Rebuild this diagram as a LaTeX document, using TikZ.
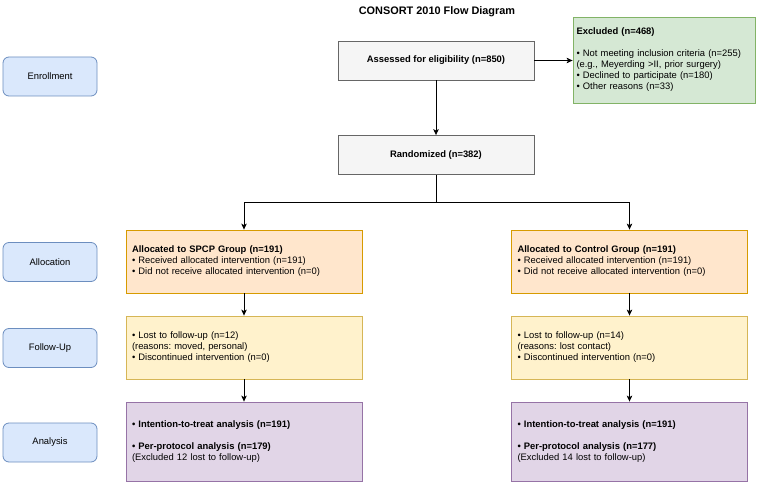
\documentclass[tikz,border=0pt]{standalone}
\usepackage{fontspec}
\setmainfont{Liberation Sans}
\usetikzlibrary{arrows.meta}
\frenchspacing
\definecolor{greyfill}{HTML}{F5F5F5}
\definecolor{greydraw}{HTML}{666666}
\definecolor{greenfill}{HTML}{D5E8D4}
\definecolor{greendraw}{HTML}{82B366}
\definecolor{orangefill}{HTML}{FFE6CC}
\definecolor{orangedraw}{HTML}{D79B00}
\definecolor{yellowfill}{HTML}{FFF2CC}
\definecolor{yellowdraw}{HTML}{D6B656}
\definecolor{purplefill}{HTML}{E1D5E7}
\definecolor{purpledraw}{HTML}{9673A6}
\definecolor{bluefill}{HTML}{DAE8FC}
\definecolor{bluedraw}{HTML}{6C8EBF}
\tikzset{
  basefont/.style={font=\fontsize{9.4}{11}\selectfont},
  stagebox/.style={basefont, draw=bluedraw, fill=bluefill, rounded corners=6pt,
    minimum width=94pt, minimum height=39pt, line width=0.8pt, inner sep=0pt},
  greybox/.style={basefont, draw=greydraw, fill=greyfill, minimum width=196pt,
    minimum height=39pt, line width=0.8pt, inner sep=0pt, font=\fontsize{9.4}{11}\selectfont\bfseries},
  infobox/.style={basefont, line width=0.8pt, minimum width=236pt, inner xsep=6pt,
    text width=224pt, align=left},
  allocbox/.style={infobox, draw=orangedraw, fill=orangefill, minimum height=63pt},
  followbox/.style={infobox, draw=yellowdraw, fill=yellowfill, minimum height=63pt},
  analysisbox/.style={infobox, draw=purpledraw, fill=purplefill, minimum height=79pt},
  exclbox/.style={basefont, draw=greendraw, fill=greenfill, line width=0.8pt,
    minimum width=182pt, minimum height=86pt, inner xsep=3.5pt, text width=175pt, align=left},
  flow/.style={draw=black, line width=0.9pt, -{Stealth[length=6pt,width=5.5pt,inset=1.5pt]}},
  plainline/.style={draw=black, line width=0.9pt}
}
\begin{document}
\begin{tikzpicture}[x=1pt,y=-1pt]
\useasboundingbox (0,0) rectangle (757,484);
\node[font=\fontsize{10.9}{13}\selectfont\bfseries] (title) at (437,12) {CONSORT 2010 Flow Diagram};

\node[stagebox] (senr) at (50,76.5) {Enrollment};
\node[stagebox] (salloc) at (50,262) {Allocation};
\node[stagebox] (sfollow) at (50,348) {Follow-Up};
\node[stagebox] (sanal) at (50,442.5) {Analysis};

\node[greybox] (assess) at (436,60.5) {Assessed for eligibility (n=850)};
\node[greybox] (rand) at (436,155) {Randomized (n=382)};

\node[exclbox] (excl) at (664,60) {\textbf{Excluded (n=468)}\\[11pt]
• Not meeting inclusion criteria (n=255)\\
(e.g., Meyerding >II, prior surgery)\\
• Declined to participate (n=180)\\
• Other reasons (n=33)\\[11pt]};

\node[allocbox] (allocL) at (244,261.5) {\textbf{Allocated to SPCP Group (n=191)}\\
• Received allocated intervention (n=191)\\
• Did not receive allocated intervention (n=0)};
\node[allocbox] (allocR) at (629.5,261.5) {\textbf{Allocated to Control Group (n=191)}\\
• Received allocated intervention (n=191)\\
• Did not receive allocated intervention (n=0)};

\node[followbox] (followL) at (244,347.5) {• Lost to follow-up (n=12)\\
(reasons: moved, personal)\\
• Discontinued intervention (n=0)};
\node[followbox] (followR) at (629.5,347.5) {• Lost to follow-up (n=14)\\
(reasons: lost contact)\\
• Discontinued intervention (n=0)};

\node[analysisbox] (analL) at (244,441.5) {\textbf{• Intention-to-treat analysis (n=191)}\\[11pt]
\textbf{• Per-protocol analysis (n=179)}\\
(Excluded 12 lost to follow-up)};
\node[analysisbox] (analR) at (629.5,441.5) {\textbf{• Intention-to-treat analysis (n=191)}\\[11pt]
\textbf{• Per-protocol analysis (n=177)}\\
(Excluded 14 lost to follow-up)};

\coordinate (split) at (436,202);
\draw[flow] (assess.east) -- (assess.east -| excl.west);
\draw[flow] (assess.south) -- (rand.north);
\draw[plainline] (rand.south) -- (split);
\draw[flow] (split) -| (allocL.north);
\draw[flow] (split) -| (allocR.north);
\draw[flow] (allocL.south) -- (followL.north);
\draw[flow] (allocR.south) -- (followR.north);
\draw[flow] (followL.south) -- (analL.north);
\draw[flow] (followR.south) -- (analR.north);
\end{tikzpicture}
\end{document}
